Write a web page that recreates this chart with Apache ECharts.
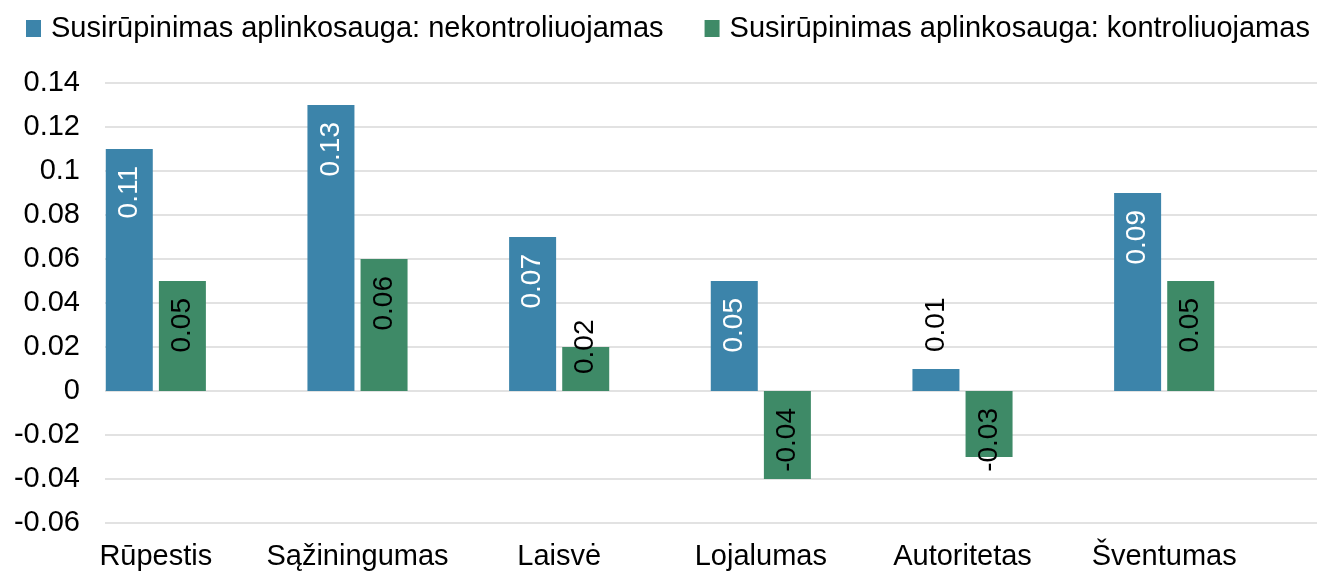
<!DOCTYPE html>
<html>
<head>
<meta charset="utf-8">
<script src="https://cdn.jsdelivr.net/npm/echarts@6/dist/echarts.min.js"></script>
<style>
html,body{margin:0;padding:0;background:#fff;}
#chart{width:1319px;height:574px;}
</style>
</head>
<body>
<div id="chart"></div>
<script>
const categories = ['Rūpestis', 'Sąžiningumas', 'Laisvė', 'Lojalumas', 'Autoritetas', 'Šventumas'];
const seriesNames = ['Susirūpinimas aplinkosauga: nekontroliuojamas', 'Susirūpinimas aplinkosauga: kontroliuojamas'];
const uncontrolled = [0.11, 0.13, 0.07, 0.05, 0.01, 0.09];
const controlled = [0.05, 0.06, 0.02, -0.04, -0.03, 0.05];
const yMin = -0.06, yMax = 0.14, yStep = 0.02;

const FONT = 'Liberation Sans, Arial, sans-serif';
const BLUE = '#3C84AA';
const GREEN = '#3E8A67';
const LBL = 28;
const AX = 29;

function labelFor(v, color) {
  const base = {
    show: true, rotate: 90, fontFamily: FONT, fontSize: LBL, color: color,
    position: 'insideTop', align: 'right', verticalAlign: 'middle', distance: 17,
    formatter: p => String(p.value)
  };
  const barPx = Math.abs(v) / (yMax - yMin) * 440;
  if (v >= 0 && barPx < 30) {
    return Object.assign(base, { position: 'top', align: 'left', color: '#000' });
  }
  if (v >= 0 && barPx < 60) {
    return Object.assign(base, { position: 'insideBottom', align: 'left' });
  }
  return base;
}

const chart = echarts.init(document.getElementById('chart'), null, { renderer: 'canvas' });
chart.setOption({
  animation: false,
  backgroundColor: '#fff',
  textStyle: { fontFamily: FONT },
  legend: {
    left: 21, top: 9, itemWidth: 15, itemHeight: 17, itemGap: 41,
    icon: 'rect',
    textStyle: { fontFamily: FONT, fontSize: AX, color: '#000', padding: [0, 0, 6, 5] },
    data: seriesNames
  },
  grid: [
    { left: 105, right: 2, top: 83, bottom: 51 },
    { left: 55, right: 54, top: 83, bottom: 51 }
  ],
  xAxis: [
    { type: 'category', gridIndex: 0, data: categories, show: false },
    {
      type: 'category', gridIndex: 1, data: categories,
      axisLine: { show: false }, axisTick: { show: false },
      axisLabel: { fontFamily: FONT, fontSize: AX, color: '#000', margin: 19, interval: 0 }
    }
  ],
  yAxis: [
    {
      type: 'value', gridIndex: 0, min: yMin, max: yMax, interval: yStep,
      axisLine: { show: false }, axisTick: { show: false },
      axisLabel: { fontFamily: FONT, fontSize: AX, color: '#000', margin: 25,
        formatter: v => String(Math.round(v * 100) / 100) },
      splitLine: { lineStyle: { color: '#d9d9d9', width: 1.5 } }
    },
    {
      type: 'value', gridIndex: 1, min: yMin, max: yMax, interval: yStep,
      show: false, splitLine: { show: false }
    }
  ],
  series: [
    {
      name: seriesNames[0], type: 'bar', xAxisIndex: 1, yAxisIndex: 1,
      barWidth: 47, barGap: '13%',
      itemStyle: { color: BLUE },
      data: uncontrolled.map(v => ({ value: v, label: labelFor(v, '#fff') }))
    },
    {
      name: seriesNames[1], type: 'bar', xAxisIndex: 1, yAxisIndex: 1,
      barWidth: 47, barGap: '13%',
      itemStyle: { color: GREEN },
      data: controlled.map(v => ({ value: v, label: labelFor(v, '#000') }))
    }
  ]
});
</script>
</body>
</html>
